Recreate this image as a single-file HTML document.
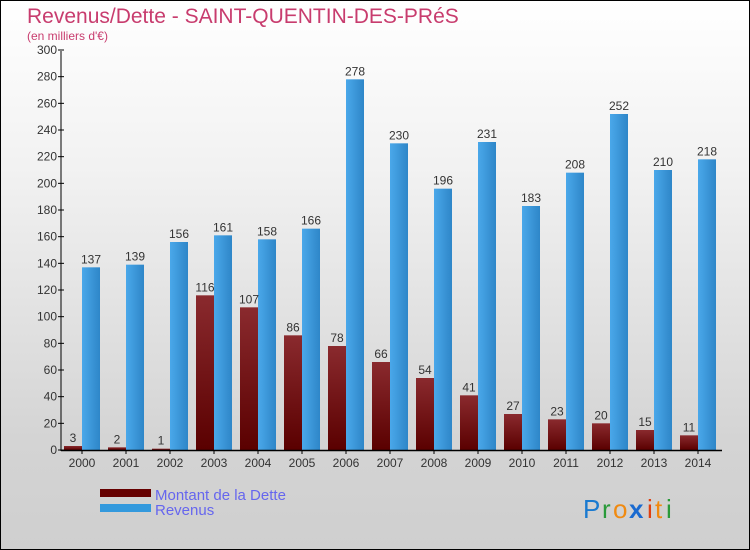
<!DOCTYPE html>
<html><head><meta charset="utf-8"><style>
body{margin:0;}
#c{position:relative;width:748px;height:548px;border:1px solid #000;background:linear-gradient(#ffffff,#f2f2f2 30%,#d4d4d4 80%,#cfcfcf);font-family:"Liberation Sans",sans-serif;overflow:hidden}
</style></head><body>
<div id="c">
<svg width="748" height="548">
<defs>
<linearGradient id="gd" x1="0" y1="0" x2="0" y2="1"><stop offset="0" stop-color="#8a2a2e"/><stop offset="1" stop-color="#5a0000"/></linearGradient>
<linearGradient id="gr" x1="0" y1="0" x2="1" y2="0"><stop offset="0" stop-color="#4aa8ea"/><stop offset="1" stop-color="#2e86c8"/></linearGradient>
</defs>
<text x="26" y="22" font-size="21" fill="#c83c6e">Revenus/Dette - SAINT-QUENTIN-DES-PRéS</text>
<text x="26" y="39" font-size="12" fill="#c83c6e">(en milliers d'€)</text>
<g id="plot"></g>
<rect x="99" y="488" width="51" height="8" fill="#660000"/>
<rect x="99" y="503" width="51" height="8" fill="#3399dd"/>
<text x="154" y="499" font-size="15" fill="#6666ee">Montant de la Dette</text>
<text x="154" y="514" font-size="15" fill="#6666ee">Revenus</text>
<g font-size="26" font-family="Liberation Sans, sans-serif">
<text x="582" y="517" fill="#1a7ad0">P</text><text x="601" y="517" fill="#2a9a3a">r</text><text x="612" y="517" fill="#f08a10">o</text><text x="628" y="517" fill="#1a6ad0" font-weight="bold">x</text><text x="646" y="517" fill="#e04010">i</text><text x="654" y="517" fill="#f08a10">t</text><text x="665" y="517" fill="#2a9a3a">i</text>
</g>
</svg>
</div>
<script>
const years=["2000","2001","2002","2003","2004","2005","2006","2007","2008","2009","2010","2011","2012","2013","2014"];
const dette=[3,2,1,116,107,86,78,66,54,41,27,23,20,15,11];
const revenus=[137,139,156,161,158,166,278,230,196,231,183,208,252,210,218];
const ticks=[0,20,40,60,80,100,120,140,160,180,200,220,240,260,280,300];
const NS="http://www.w3.org/2000/svg";
const g=document.getElementById('plot');
const y=v=>449-v*400/300;
const xc=i=>81+i*44;
function mk(t,a,txt){const e=document.createElementNS(NS,t);for(const k in a)e.setAttribute(k,a[k]);if(txt!==undefined)e.textContent=txt;g.appendChild(e);return e;}
years.forEach((yr,i)=>{
 const d=mk('rect',{x:xc(i)-18,y:y(dette[i]),width:18,height:dette[i]*400/300,fill:'url(#gd)'});
 
 
 const r=mk('rect',{x:xc(i),y:y(revenus[i]),width:18,height:revenus[i]*400/300,fill:'url(#gr)'});
 
 
 const l1=mk('text',{x:xc(i)-9,y:y(dette[i])-4,'font-size':12,fill:'#333','text-anchor':'middle'},String(dette[i]));
 
 
 const l2=mk('text',{x:xc(i)+9,y:y(revenus[i])-4,'font-size':12,fill:'#333','text-anchor':'middle'},String(revenus[i]));
 
 
 const tl=mk('text',{x:xc(i),y:466,'font-size':12,fill:'#333','text-anchor':'middle'},yr);
 
 
 mk('line',{x1:xc(i),x2:xc(i),y1:449,y2:453,stroke:'#000'});
});
ticks.forEach(t=>{
 mk('line',{x1:57,x2:63,y1:y(t),y2:y(t),stroke:'#000'});
 const e=mk('text',{x:56,y:y(t)+4,'font-size':12,fill:'#333','text-anchor':'end'},String(t));
 
 
});
const ya=mk('line',{x1:60,x2:60,y1:50,y2:450,stroke:'#000','stroke-width':1});


const xa=mk('line',{x1:60,x2:721,y1:449.5,y2:449.5,stroke:'#000','stroke-width':1.5});


</script>
</body></html>
